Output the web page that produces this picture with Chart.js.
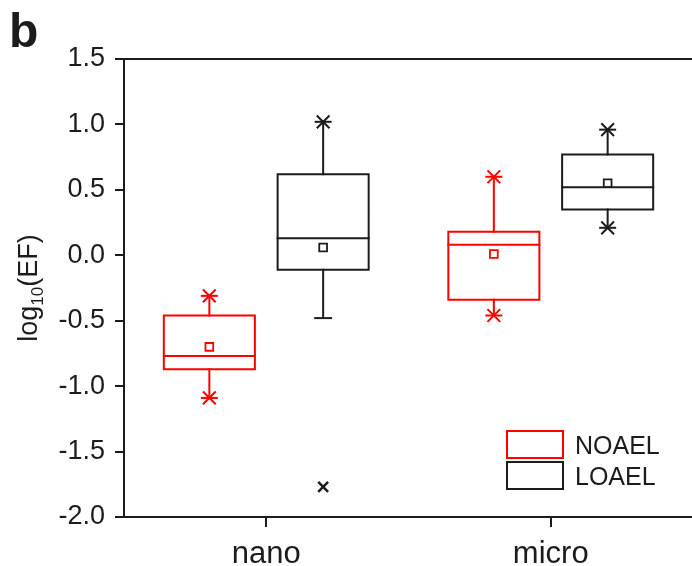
<!DOCTYPE html>
<html>
<head>
    <title>log10(EF) box chart</title>
    <script src="https://cdn.jsdelivr.net/npm/chart.js@4.4.0/dist/chart.umd.min.js"></script>
    <style>
        body { margin: 0; background: #fff; }
        #wrap { width: 692px; height: 566px; overflow: hidden; }
    </style>
</head>
<body>
    <div id="wrap">
        <canvas id="boxChart" width="704" height="566"></canvas>
    </div>

    <script>
        // categories and where their ticks sit on the x axis
        const groups = ['nano', 'micro'];
        const groupTicks = [1, 2];
        const seriesNames = ['NOAEL', 'LOAEL'];

        // NOAEL box statistics (log10 EF)
        const noaelQ1 = [-0.87, -0.34];
        const noaelMedian = [-0.77, 0.08];
        const noaelQ3 = [-0.46, 0.18];
        const noaelMean = [-0.70, 0.01];
        const noaelLow = [-1.09, -0.46];
        const noaelHigh = [-0.31, 0.60];
        const noaelStars = [[-1.09, -0.31], [-0.46, 0.60]];

        // LOAEL box statistics
        const loaelQ1 = [-0.11, 0.35];
        const loaelMedian = [0.13, 0.52];
        const loaelQ3 = [0.62, 0.77];
        const loaelMean = [0.06, 0.55];
        const loaelLow = [-0.48, 0.21];
        const loaelHigh = [1.02, 0.96];
        const loaelStars = [[1.02], [0.21, 0.96]];
        const loaelCaps = [[-0.48], []];
        const loaelOutliers = [[-1.77], []];

        const yTicks = { min: -2.0, max: 1.5, step: 0.5 };

        // layout: box offset from the group tick and half width (x units)
        const boxOffset = { NOAEL: -0.2, LOAEL: 0.2 };
        const halfW = 0.16;
        const red = '#ff0000';
        const ink = '#1c1c1c';
        const fontFamily = '"Liberation Sans", Arial, sans-serif';

        Chart.defaults.font.family = fontFamily;
        Chart.defaults.color = ink;

        const centers = (name) => groupTicks.map(g => g + boxOffset[name]);

        function outline(name, q1, q3) {
            const pts = [];
            centers(name).forEach((cx, i) => {
                pts.push({x: cx - halfW, y: q1[i]}, {x: cx + halfW, y: q1[i]},
                         {x: cx + halfW, y: q3[i]}, {x: cx - halfW, y: q3[i]},
                         {x: cx - halfW, y: q1[i]}, {x: cx, y: null});
            });
            return pts;
        }
        function medians(name, med) {
            const pts = [];
            centers(name).forEach((cx, i) => {
                pts.push({x: cx - halfW, y: med[i]}, {x: cx + halfW, y: med[i]}, {x: cx, y: null});
            });
            return pts;
        }
        function whiskers(name, q1, q3, lo, hi) {
            const pts = [];
            centers(name).forEach((cx, i) => {
                pts.push({x: cx, y: q3[i]}, {x: cx, y: hi[i]}, {x: cx, y: null});
                pts.push({x: cx, y: q1[i]}, {x: cx, y: lo[i]}, {x: cx, y: null});
            });
            return pts;
        }
        function marks(name, vals) {
            const pts = [];
            centers(name).forEach((cx, i) => {
                const v = Array.isArray(vals[i]) ? vals[i] : [vals[i]];
                v.forEach(y => pts.push({x: cx, y: y}));
            });
            return pts;
        }

        function lineSet(data, color) {
            return {
                data: data, showLine: true, borderColor: color, borderWidth: 2,
                pointRadius: 0, spanGaps: false, tension: 0, fill: false,
                borderJoinStyle: 'miter', borderCapStyle: 'square'
            };
        }
        function pointSet(data, color, style, radius, width) {
            return {
                data: data, showLine: false, pointStyle: style, pointRadius: radius,
                borderColor: color, backgroundColor: 'rgba(0,0,0,0)',
                pointBorderWidth: width, borderWidth: width
            };
        }

        const datasets = [
            lineSet(outline('NOAEL', noaelQ1, noaelQ3), red),
            lineSet(medians('NOAEL', noaelMedian), red),
            lineSet(whiskers('NOAEL', noaelQ1, noaelQ3, noaelLow, noaelHigh), red),
            pointSet(marks('NOAEL', noaelMean), red, 'rect', 5.5, 1.8),
            pointSet(marks('NOAEL', noaelStars), red, 'crossRot', 9, 2),
            pointSet(marks('NOAEL', noaelStars), red, 'line', 8.5, 2),

            lineSet(outline('LOAEL', loaelQ1, loaelQ3), ink),
            lineSet(medians('LOAEL', loaelMedian), ink),
            lineSet(whiskers('LOAEL', loaelQ1, loaelQ3, loaelLow, loaelHigh), ink),
            pointSet(marks('LOAEL', loaelMean), ink, 'rect', 5.5, 1.8),
            pointSet(marks('LOAEL', loaelStars), ink, 'crossRot', 9, 2),
            pointSet(marks('LOAEL', loaelStars), ink, 'line', 8.5, 2),
            pointSet(marks('LOAEL', loaelCaps), ink, 'line', 9, 2),
            pointSet(marks('LOAEL', loaelOutliers), ink, 'crossRot', 7, 2.5)
        ];

        // frame top, panel letter, y title with subscript, legend
        const decorations = {
            id: 'decorations',
            afterDraw(chart) {
                const {ctx, chartArea: a} = chart;
                ctx.save();
                ctx.strokeStyle = ink;
                ctx.lineWidth = 2;
                ctx.beginPath();
                ctx.moveTo(a.left - 1, a.top);
                ctx.lineTo(a.right, a.top);
                ctx.stroke();

                ctx.fillStyle = ink;
                ctx.textBaseline = 'alphabetic';
                ctx.font = 'bold 48px ' + fontFamily;
                ctx.fillText('b', 9, 47);

                // y title: log10(EF)
                ctx.save();
                ctx.translate(37, (a.top + a.bottom) / 2);
                ctx.rotate(-Math.PI / 2);
                const big = '27px ' + fontFamily, small = '17px ' + fontFamily;
                ctx.font = big;
                const w1 = ctx.measureText('log').width;
                const w3 = ctx.measureText('(EF)').width;
                ctx.font = small;
                const w2 = ctx.measureText('10').width;
                let sx = -(w1 + w2 + w3) / 2;
                ctx.font = big;
                ctx.fillText('log', sx, 0);
                ctx.font = small;
                ctx.fillText('10', sx + w1, 6);
                ctx.font = big;
                ctx.fillText('(EF)', sx + w1 + w2, 0);
                ctx.restore();

                // legend
                const lx = a.left + 383, ly = a.bottom - 86;
                const colors = [red, ink];
                ctx.font = '25px ' + fontFamily;
                seriesNames.forEach((name, i) => {
                    const y = ly + i * 31;
                    ctx.strokeStyle = colors[i];
                    ctx.lineWidth = 2;
                    ctx.strokeRect(lx, y, 56, 27);
                    ctx.fillStyle = ink;
                    ctx.fillText(name, lx + 68, y + 23);
                });
                ctx.restore();
            }
        };

        const ctx = document.getElementById('boxChart').getContext('2d');
        new Chart(ctx, {
            type: 'scatter',
            data: { datasets: datasets },
            plugins: [decorations],
            options: {
                responsive: false,
                animation: false,
                devicePixelRatio: 1,
                events: [],
                layout: { padding: { top: 59, right: 0, bottom: 0, left: 0 } },
                plugins: { legend: { display: false }, tooltip: { enabled: false } },
                scales: {
                    x: {
                        type: 'linear',
                        min: 0.5, max: 2.5,
                        afterBuildTicks: (s) => { s.ticks = groupTicks.map(v => ({value: v})); },
                        afterFit: (s) => { s.height = 49; s.paddingLeft = 0; s.paddingRight = 0; },
                        ticks: {
                            font: { size: 31 }, padding: 9, color: ink,
                            callback: (v) => groups[groupTicks.indexOf(v)]
                        },
                        grid: { drawOnChartArea: false, tickLength: 10, lineWidth: 2, color: ink },
                        border: { display: true, color: ink, width: 2 }
                    },
                    y: {
                        min: yTicks.min, max: yTicks.max,
                        afterFit: (s) => { s.width = 124; },
                        ticks: {
                            stepSize: yTicks.step, font: { size: 27 }, padding: 10, color: ink,
                            callback: (v) => v.toFixed(1)
                        },
                        grid: { drawOnChartArea: false, tickLength: 9, lineWidth: 2, color: ink },
                        border: { display: true, color: ink, width: 2 }
                    }
                }
            }
        });
    </script>
</body>
</html>
